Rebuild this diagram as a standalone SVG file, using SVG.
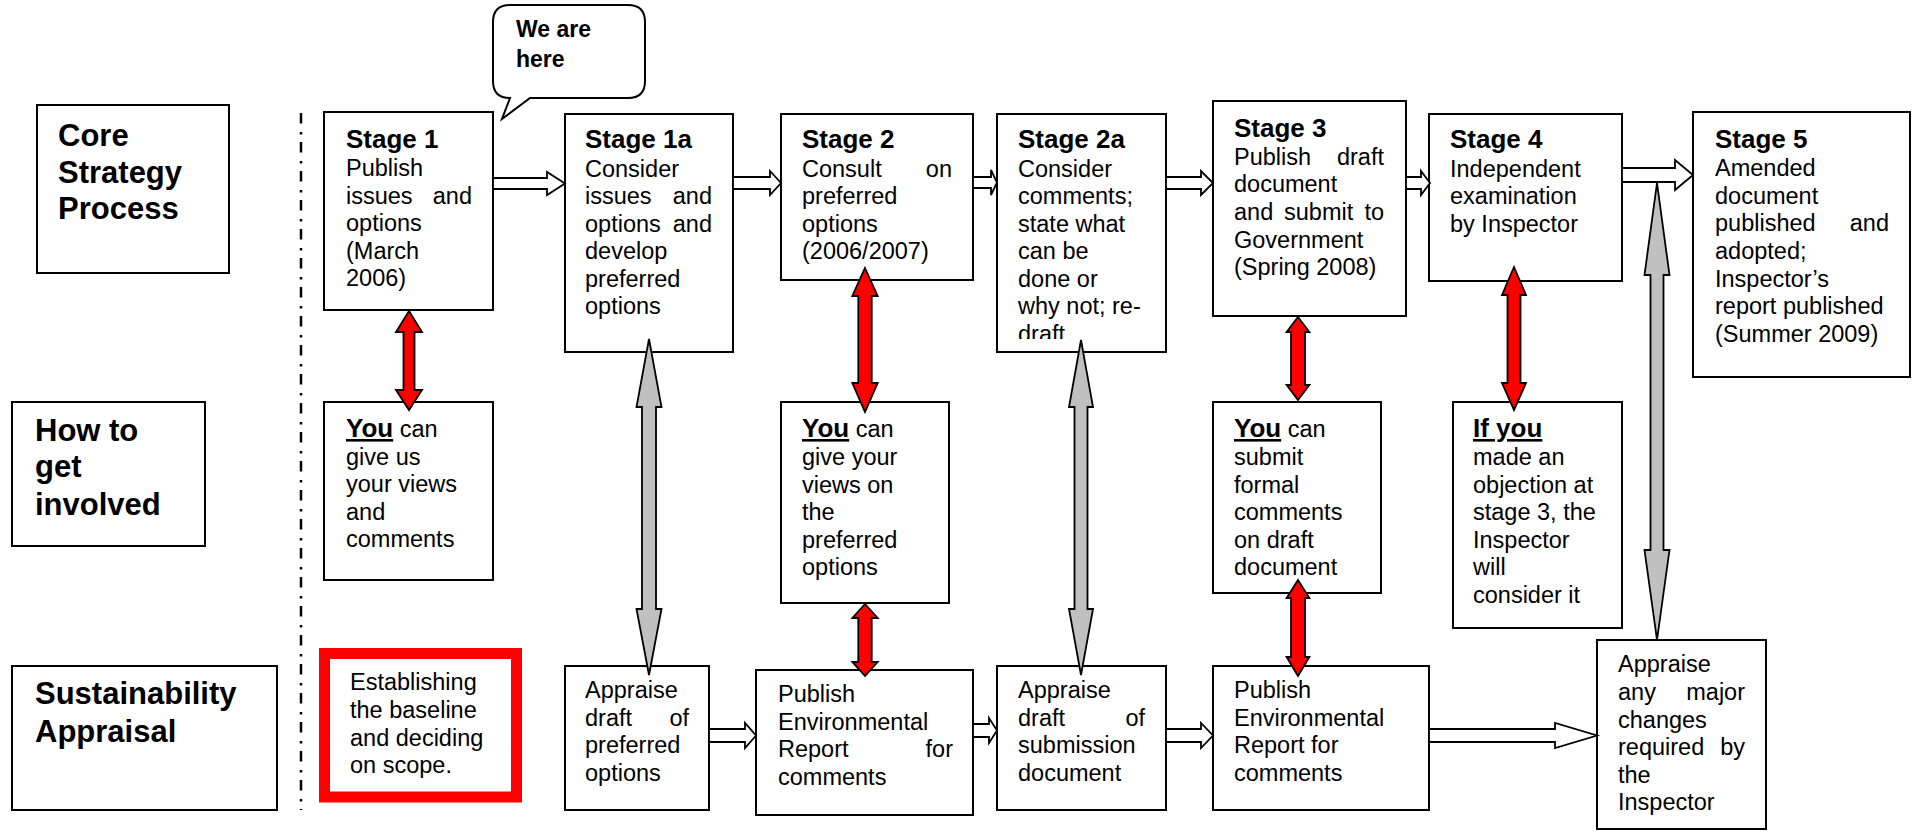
<svg xmlns="http://www.w3.org/2000/svg" width="1914" height="831" viewBox="0 0 1914 831">
<style>
.box{fill:#fff;stroke:#000;stroke-width:2}
.t{font-family:"Liberation Sans",Arial,sans-serif;font-size:23.5px;fill:#000}
.h{font-weight:bold;font-size:26px}
.L{font-family:"Liberation Sans",Arial,sans-serif;font-weight:bold;font-size:31px;fill:#000}
.u{text-decoration:underline}
.e{text-anchor:end}
.hol{fill:#fff;stroke:#000;stroke-width:1.8;stroke-linejoin:miter}
.red{fill:#ff0000;stroke:#000;stroke-width:1.8}
.gry{fill:#c0c0c0;stroke:#000;stroke-width:1.8}
</style>
<defs>
<clipPath id="clip2a"><rect x="997" y="114" width="169" height="225"/></clipPath>
</defs>
<rect width="1914" height="831" fill="#fff"/>
<line id="divider" x1="301" y1="113" x2="301" y2="810" stroke="#000" stroke-width="2.5" stroke-dasharray="10.5 8.5 2.5 7.5"/>

<g id="label-core">
<rect class="box" x="37" y="105" width="192" height="168"/>
<text class="L" x="58" y="146">Core</text>
<text class="L" x="58" y="183">Strategy</text>
<text class="L" x="58" y="219">Process</text>
</g>
<g id="label-how">
<rect class="box" x="12" y="402" width="193" height="144"/>
<text class="L" x="35" y="441">How to</text>
<text class="L" x="35" y="477">get</text>
<text class="L" x="35" y="515">involved</text>
</g>
<g id="label-sa">
<rect class="box" x="12" y="666" width="265" height="144"/>
<text class="L" x="35" y="704">Sustainability</text>
<text class="L" x="35" y="742">Appraisal</text>
</g>

<g id="callout">
<path d="M510,5 H628 Q645,5 645,22 V81 Q645,98 628,98 H530 L502,119 L510,98 Q493,98 493,81 V22 Q493,5 510,5 Z" fill="#fff" stroke="#000" stroke-width="2"/>
<text class="t h" x="516" y="37" style="font-size:23px">We are</text>
<text class="t h" x="516" y="67" style="font-size:23px">here</text>
</g>

<g id="stage1">
<rect class="box" x="324" y="112" width="169" height="198"/>
<text class="t h" x="346" y="148">Stage 1</text>
<text class="t" x="346" y="176">Publish</text>
<text class="t" x="346" y="203.5">issues</text><text class="t e" x="472" y="203.5">and</text>
<text class="t" x="346" y="231">options</text>
<text class="t" x="346" y="258.5">(March</text>
<text class="t" x="346" y="286">2006)</text>
</g>
<g id="stage1a">
<rect class="box" x="565" y="114" width="168" height="238"/>
<text class="t h" x="585" y="148">Stage 1a</text>
<text class="t" x="585" y="176.5">Consider</text>
<text class="t" x="585" y="204">issues</text><text class="t e" x="712" y="204">and</text>
<text class="t" x="585" y="231.5">options</text><text class="t e" x="712" y="231.5">and</text>
<text class="t" x="585" y="259">develop</text>
<text class="t" x="585" y="286.5">preferred</text>
<text class="t" x="585" y="314">options</text>
</g>
<g id="stage2">
<rect class="box" x="781" y="114" width="192" height="166"/>
<text class="t h" x="802" y="148">Stage 2</text>
<text class="t" x="802" y="176.5">Consult</text><text class="t e" x="952" y="176.5">on</text>
<text class="t" x="802" y="204">preferred</text>
<text class="t" x="802" y="231.5">options</text>
<text class="t" x="802" y="259">(2006/2007)</text>
</g>
<g id="stage2a">
<rect class="box" x="997" y="114" width="169" height="238"/>
<g clip-path="url(#clip2a)">
<text class="t h" x="1018" y="148">Stage 2a</text>
<text class="t" x="1018" y="176.5">Consider</text>
<text class="t" x="1018" y="204">comments;</text>
<text class="t" x="1018" y="231.5">state what</text>
<text class="t" x="1018" y="259">can be</text>
<text class="t" x="1018" y="286.5">done or</text>
<text class="t" x="1018" y="314">why not; re-</text>
<text class="t" x="1018" y="341.5">draft</text>
</g>
</g>
<g id="stage3">
<rect class="box" x="1213" y="101" width="193" height="215"/>
<text class="t h" x="1234" y="137">Stage 3</text>
<text class="t" x="1234" y="164.5">Publish</text><text class="t e" x="1384" y="164.5">draft</text>
<text class="t" x="1234" y="192">document</text>
<text class="t" x="1234" y="220">and</text><text class="t" x="1284" y="220">submit</text><text class="t e" x="1384" y="220">to</text>
<text class="t" x="1234" y="247.5">Government</text>
<text class="t" x="1234" y="275">(Spring 2008)</text>
</g>
<g id="stage4">
<rect class="box" x="1429" y="114" width="193" height="167"/>
<text class="t h" x="1450" y="148">Stage 4</text>
<text class="t" x="1450" y="176.5">Independent</text>
<text class="t" x="1450" y="204">examination</text>
<text class="t" x="1450" y="231.5">by Inspector</text>
</g>
<g id="stage5">
<rect class="box" x="1693" y="112" width="217" height="265"/>
<text class="t h" x="1715" y="148">Stage 5</text>
<text class="t" x="1715" y="176">Amended</text>
<text class="t" x="1715" y="203.5">document</text>
<text class="t" x="1715" y="231">published</text><text class="t e" x="1889" y="231">and</text>
<text class="t" x="1715" y="258.5">adopted;</text>
<text class="t" x="1715" y="286.5">Inspector’s</text>
<text class="t" x="1715" y="314">report published</text>
<text class="t" x="1715" y="341.5">(Summer 2009)</text>
</g>

<g id="involve1">
<rect class="box" x="324" y="402" width="169" height="178"/>
<text class="t" x="346" y="437"><tspan class="h u">You</tspan> can</text>
<text class="t" x="346" y="465">give us</text>
<text class="t" x="346" y="492">your views</text>
<text class="t" x="346" y="520">and</text>
<text class="t" x="346" y="547">comments</text>
</g>
<g id="involve2">
<rect class="box" x="781" y="402" width="168" height="201"/>
<text class="t" x="802" y="437"><tspan class="h u">You</tspan> can</text>
<text class="t" x="802" y="465">give your</text>
<text class="t" x="802" y="492.5">views on</text>
<text class="t" x="802" y="520">the</text>
<text class="t" x="802" y="547.5">preferred</text>
<text class="t" x="802" y="575">options</text>
</g>
<g id="involve3">
<rect class="box" x="1213" y="402" width="168" height="191"/>
<text class="t" x="1234" y="437"><tspan class="h u">You</tspan> can</text>
<text class="t" x="1234" y="465">submit</text>
<text class="t" x="1234" y="492.5">formal</text>
<text class="t" x="1234" y="520">comments</text>
<text class="t" x="1234" y="547.5">on draft</text>
<text class="t" x="1234" y="575">document</text>
</g>
<g id="involve4">
<rect class="box" x="1453" y="402" width="169" height="226"/>
<text class="t h u" x="1473" y="437">If you</text>
<text class="t" x="1473" y="465">made an</text>
<text class="t" x="1473" y="492.5">objection at</text>
<text class="t" x="1473" y="520">stage 3, the</text>
<text class="t" x="1473" y="547.5">Inspector</text>
<text class="t" x="1473" y="575">will</text>
<text class="t" x="1473" y="603">consider it</text>
</g>

<g id="sa-baseline">
<rect x="324.5" y="653.5" width="192" height="143.5" fill="#fff" stroke="#ff0000" stroke-width="11"/>
<text class="t" x="350" y="690">Establishing</text>
<text class="t" x="350" y="718">the baseline</text>
<text class="t" x="350" y="746">and deciding</text>
<text class="t" x="350" y="773">on scope.</text>
</g>
<g id="sa-appraise1">
<rect class="box" x="565" y="666" width="144" height="144"/>
<text class="t" x="585" y="698">Appraise</text>
<text class="t" x="585" y="726">draft</text><text class="t e" x="689" y="726">of</text>
<text class="t" x="585" y="753">preferred</text>
<text class="t" x="585" y="781">options</text>
</g>
<g id="sa-publish1">
<rect class="box" x="756" y="670" width="217" height="145"/>
<text class="t" x="778" y="702">Publish</text>
<text class="t" x="778" y="730">Environmental</text>
<text class="t" x="778" y="757">Report</text><text class="t e" x="953" y="757">for</text>
<text class="t" x="778" y="785">comments</text>
</g>
<g id="sa-appraise2">
<rect class="box" x="997" y="666" width="169" height="144"/>
<text class="t" x="1018" y="698">Appraise</text>
<text class="t" x="1018" y="726">draft</text><text class="t e" x="1145" y="726">of</text>
<text class="t" x="1018" y="753">submission</text>
<text class="t" x="1018" y="781">document</text>
</g>
<g id="sa-publish2">
<rect class="box" x="1213" y="666" width="216" height="144"/>
<text class="t" x="1234" y="698">Publish</text>
<text class="t" x="1234" y="726">Environmental</text>
<text class="t" x="1234" y="753">Report for</text>
<text class="t" x="1234" y="781">comments</text>
</g>
<g id="sa-appraise3">
<rect class="box" x="1597" y="640" width="169" height="189"/>
<text class="t" x="1618" y="672">Appraise</text>
<text class="t" x="1618" y="700">any</text><text class="t e" x="1745" y="700">major</text>
<text class="t" x="1618" y="728">changes</text>
<text class="t" x="1618" y="755">required</text><text class="t e" x="1745" y="755">by</text>
<text class="t" x="1618" y="783">the</text>
<text class="t" x="1618" y="810">Inspector</text>
</g>

<g id="connectors">
<path class="hol" d="M493,178 H547 V172 L565,183.5 L547,195 V189 H493 Z"/>
<path class="hol" d="M733,177 H770 V171 L781,183 L770,195 V189 H733 Z"/>
<path class="hol" d="M973,177 H991 V170 L997,182.5 L991,195 V188 H973 Z"/>
<path class="hol" d="M1166,177 H1201 V171 L1213,183 L1201,195 V189 H1166 Z"/>
<path class="hol" d="M1406,177 H1421 V171 L1430,183 L1421,195 V189 H1406 Z"/>
<path class="hol" d="M1622,168 H1675 V160 L1693,175 L1675,190 V182 H1622 Z"/>
<path class="hol" d="M709,729 H745 V723 L756,735.5 L745,748 V742 H709 Z"/>
<path class="hol" d="M973,724 H989 V718 L997,730.5 L989,743 V737 H973 Z"/>
<path class="hol" d="M1166,729 H1201 V723 L1213,735.5 L1201,748 V742 H1166 Z"/>
<path class="hol" d="M1429,729 H1555 V723 L1597,735.5 L1555,748 V742 H1429 Z"/>

<path class="red" d="M409,311 L422,332 L414.5,332 L414.5,390 L422,390 L409,410 L396,390 L403.5,390 L403.5,332 L396,332 Z"/>
<path class="red" d="M865,268 L877.7,296 L871.7,296 L871.7,383 L877.7,383 L865,412 L852.3,383 L858.3,383 L858.3,296 L852.3,296 Z"/>
<path class="red" d="M1298,317 L1309.4,332 L1305,332 L1305,385 L1309.4,385 L1298,400 L1286.6,385 L1291,385 L1291,332 L1286.6,332 Z"/>
<path class="red" d="M1514,267 L1526,295 L1520.5,295 L1520.5,383 L1526,383 L1514,410 L1502,383 L1507.5,383 L1507.5,295 L1502,295 Z"/>
<path class="red" d="M865,604 L877.7,618 L871.7,618 L871.7,662 L877.7,662 L865,676 L852.3,662 L858.3,662 L858.3,618 L852.3,618 Z"/>
<path class="red" d="M1298,580 L1309.4,598 L1305,598 L1305,657 L1309.4,657 L1298,676 L1286.6,657 L1291,657 L1291,598 L1286.6,598 Z"/>

<path class="gry" d="M649,339 L661.5,407 L656,407 L656,609 L661.5,609 L649,675 L636.5,609 L642,609 L642,407 L636.5,407 Z"/>
<path class="gry" d="M1081,340 L1093,407 L1087.5,407 L1087.5,609 L1093,609 L1081,675 L1069,609 L1074.5,609 L1074.5,407 L1069,407 Z"/>
<path class="gry" d="M1657,183 L1669.5,275 L1663.5,275 L1663.5,550 L1669.5,550 L1657,640 L1644.5,550 L1650.5,550 L1650.5,275 L1644.5,275 Z"/>
</g>
</svg>
